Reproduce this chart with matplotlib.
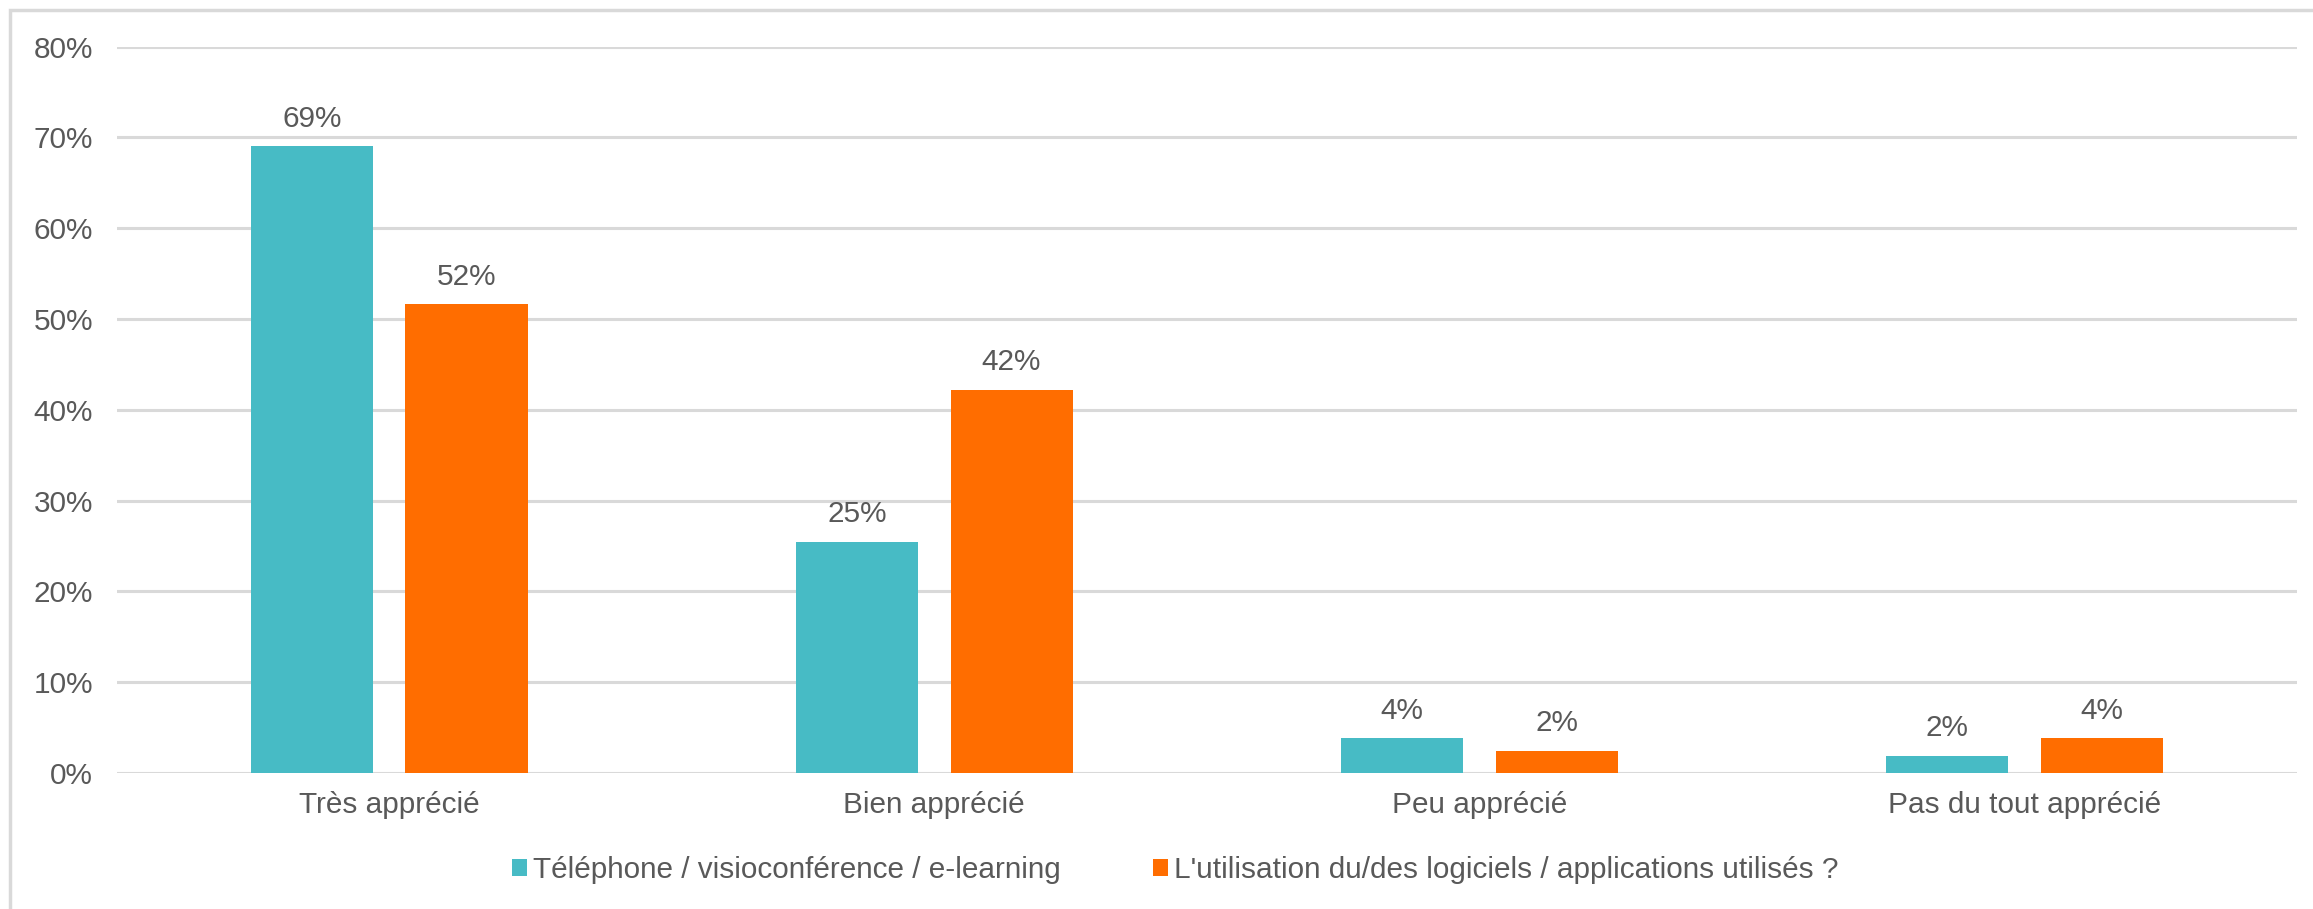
import numpy as np
import matplotlib.pyplot as plt
from matplotlib.ticker import FuncFormatter
from matplotlib.patches import Rectangle

# Survey answers
categories = ['Très apprécié', 'Bien apprécié', 'Peu apprécié', 'Pas du tout apprécié']
telephone = [0.69, 0.254, 0.038, 0.019]
logiciels = [0.516, 0.422, 0.024, 0.038]
series_names = ['Téléphone / visioconférence / e-learning',
                "L'utilisation du/des logiciels / applications utilisés ?"]

teal = '#47BBC5'
orange = '#FF6D00'
text_color = '#595959'
grid_color = '#D9D9D9'
fs = 21.4

plt.rcParams['font.family'] = ['Liberation Sans', 'DejaVu Sans']

fig = plt.figure(figsize=(23.13, 9.09), dpi=100)
ax = fig.add_axes([0.0504, 0.1497, 0.9426, 0.799])

x = np.arange(len(categories))
width = 0.224
offset = 0.142

bars1 = ax.bar(x - offset, telephone, width, color=teal, label=series_names[0])
bars2 = ax.bar(x + offset, logiciels, width, color=orange, label=series_names[1])

# data labels above the bars
for bars in (bars1, bars2):
    for b in bars:
        h = b.get_height()
        ax.annotate(f'{h:.0%}', (b.get_x() + b.get_width() / 2, h),
                    xytext=(0, 10), textcoords='offset points',
                    ha='center', va='bottom', fontsize=fs, color=text_color)

ax.set_xlim(-0.5, len(categories) - 0.5)
ax.set_ylim(0, 0.8)
ax.set_yticks(np.arange(0, 0.81, 0.1))
ax.yaxis.set_major_formatter(FuncFormatter(lambda v, pos: f'{v:.0%}'))
ax.set_xticks(x)
ax.set_xticklabels(categories)

ax.tick_params(axis='both', length=0, labelsize=fs, labelcolor=text_color)
ax.tick_params(axis='y', pad=17)
ax.tick_params(axis='x', pad=13)

ax.grid(axis='y', color=grid_color, linewidth=2.2)
ax.set_axisbelow(True)
for s in ax.spines.values():
    s.set_visible(False)

fig.legend(loc='center', bbox_to_anchor=(0.508, 0.043), ncol=2, frameon=False,
           fontsize=fs, labelcolor=text_color, handlelength=0.5, handleheight=0.5,
           handletextpad=0.2, columnspacing=3.1)

# outer chart border
fig.patches.append(Rectangle((10 / 2313, -0.05), 1.2, 1 - 10 / 909 + 0.05,
                             transform=fig.transFigure, fill=False,
                             edgecolor=grid_color, linewidth=2.5))

plt.savefig('out.png', dpi=100)
